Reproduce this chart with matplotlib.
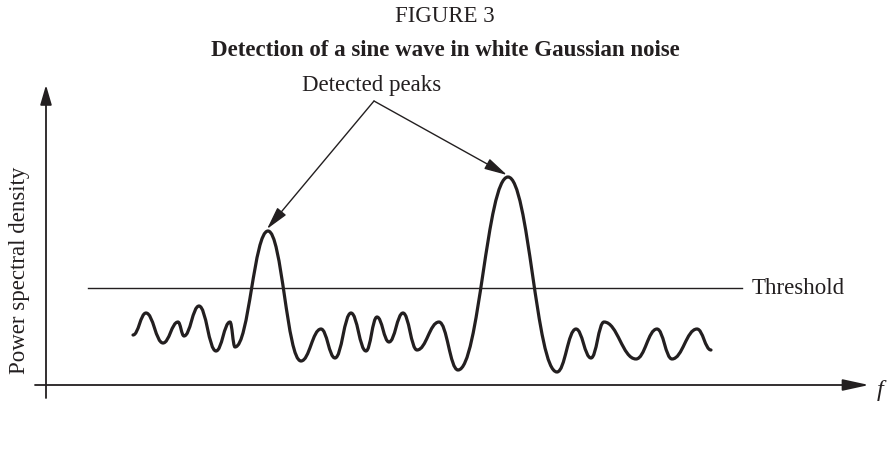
import matplotlib
matplotlib.use("Agg")
import matplotlib.pyplot as plt
from matplotlib.path import Path
from matplotlib.patches import PathPatch, FancyArrowPatch

# ---- data (frequency position, PSD level) ----
# local extrema of the power spectral density curve
freq = [87, 100, 117, 132, 138, 153, 170, 184, 189, 222, 255, 275, 289, 305,
        320, 331, 343, 357, 371, 393, 412, 462, 511, 530, 545, 558, 590, 611,
        626, 651, 665]
psd = [50, 72, 42, 63, 49, 79, 34, 63, 38, 154, 24, 56, 27, 72, 34, 68, 43,
       72, 35, 63, 15, 208, 13, 56, 27, 63, 26, 56, 26, 56, 35]
threshold = 97
threshold_x = [42, 696]
peak_idx = [9, 21]

title_top = "FIGURE 3"
title_main = "Detection of a sine wave in white Gaussian noise"
ylabel = "Power spectral density"
xlabel = "f"
label_threshold = "Threshold"
label_peaks = "Detected peaks"

plt.rcParams['font.family'] = ['Liberation Serif', 'DejaVu Serif']
ink = '#231f20'
fs = 16.5

fig = plt.figure(figsize=(8.9, 4.61), dpi=100)
ax = fig.add_axes([0, 0, 1, 1])
ax.set_xlim(-46, 844)
ax.set_ylim(-76, 385)
ax.axis('off')

# smooth curve through extrema using cubic Bezier segments with flat tangents
verts = [(freq[0], psd[0])]
codes = [Path.MOVETO]
k = 0.42
for i in range(1, len(freq)):
    x0, y0 = freq[i - 1], psd[i - 1]
    x1, y1 = freq[i], psd[i]
    dx = x1 - x0
    verts += [(x0 + k * dx, y0), (x1 - k * dx, y1), (x1, y1)]
    codes += [Path.CURVE4] * 3
ax.add_patch(PathPatch(Path(verts, codes), fill=False, lw=2.3, color=ink,
                       capstyle='round', joinstyle='round'))

# axes with arrows
ax.add_patch(FancyArrowPatch((0, -13), (0, 300), arrowstyle='-|>,head_length=12,head_width=3.5',
                             mutation_scale=1, lw=1.3, color=ink, shrinkA=0, shrinkB=0))
ax.add_patch(FancyArrowPatch((-11, 0), (823, 0), arrowstyle='-|>,head_length=16,head_width=3.5',
                             mutation_scale=1, lw=1.3, color=ink, shrinkA=0, shrinkB=0))

# threshold
ax.plot(threshold_x, [threshold, threshold], color=ink, lw=1.0)
ax.text(threshold_x[1] + 10, threshold, label_threshold, ha='left', va='center',
        fontsize=fs, color=ink)

# detected peaks annotation
src = (328, 284)
for pi in peak_idx:
    ax.add_patch(FancyArrowPatch(src, (freq[pi] - 1, psd[pi] + 2),
                                 arrowstyle='-|>,head_length=14,head_width=3.5',
                                 mutation_scale=1, lw=1.0, color=ink,
                                 shrinkA=0, shrinkB=0))
ax.text(326, 300, label_peaks, ha='center', va='center', fontsize=fs, color=ink)

# labels
ax.text(-26, 115, ylabel, rotation=90, ha='center', va='center', fontsize=fs, color=ink)
ax.text(834, -5, xlabel, ha='center', va='center', fontsize=fs + 1, style='italic', color=ink)

fig.text(0.5, 1 - 16 / 461, title_top, ha='center', va='center', fontsize=fs, color=ink)
fig.text(0.5, 1 - 50 / 461, title_main, ha='center', va='center', fontsize=fs,
         fontweight='bold', color=ink)

fig.savefig('out.png', dpi=100)
